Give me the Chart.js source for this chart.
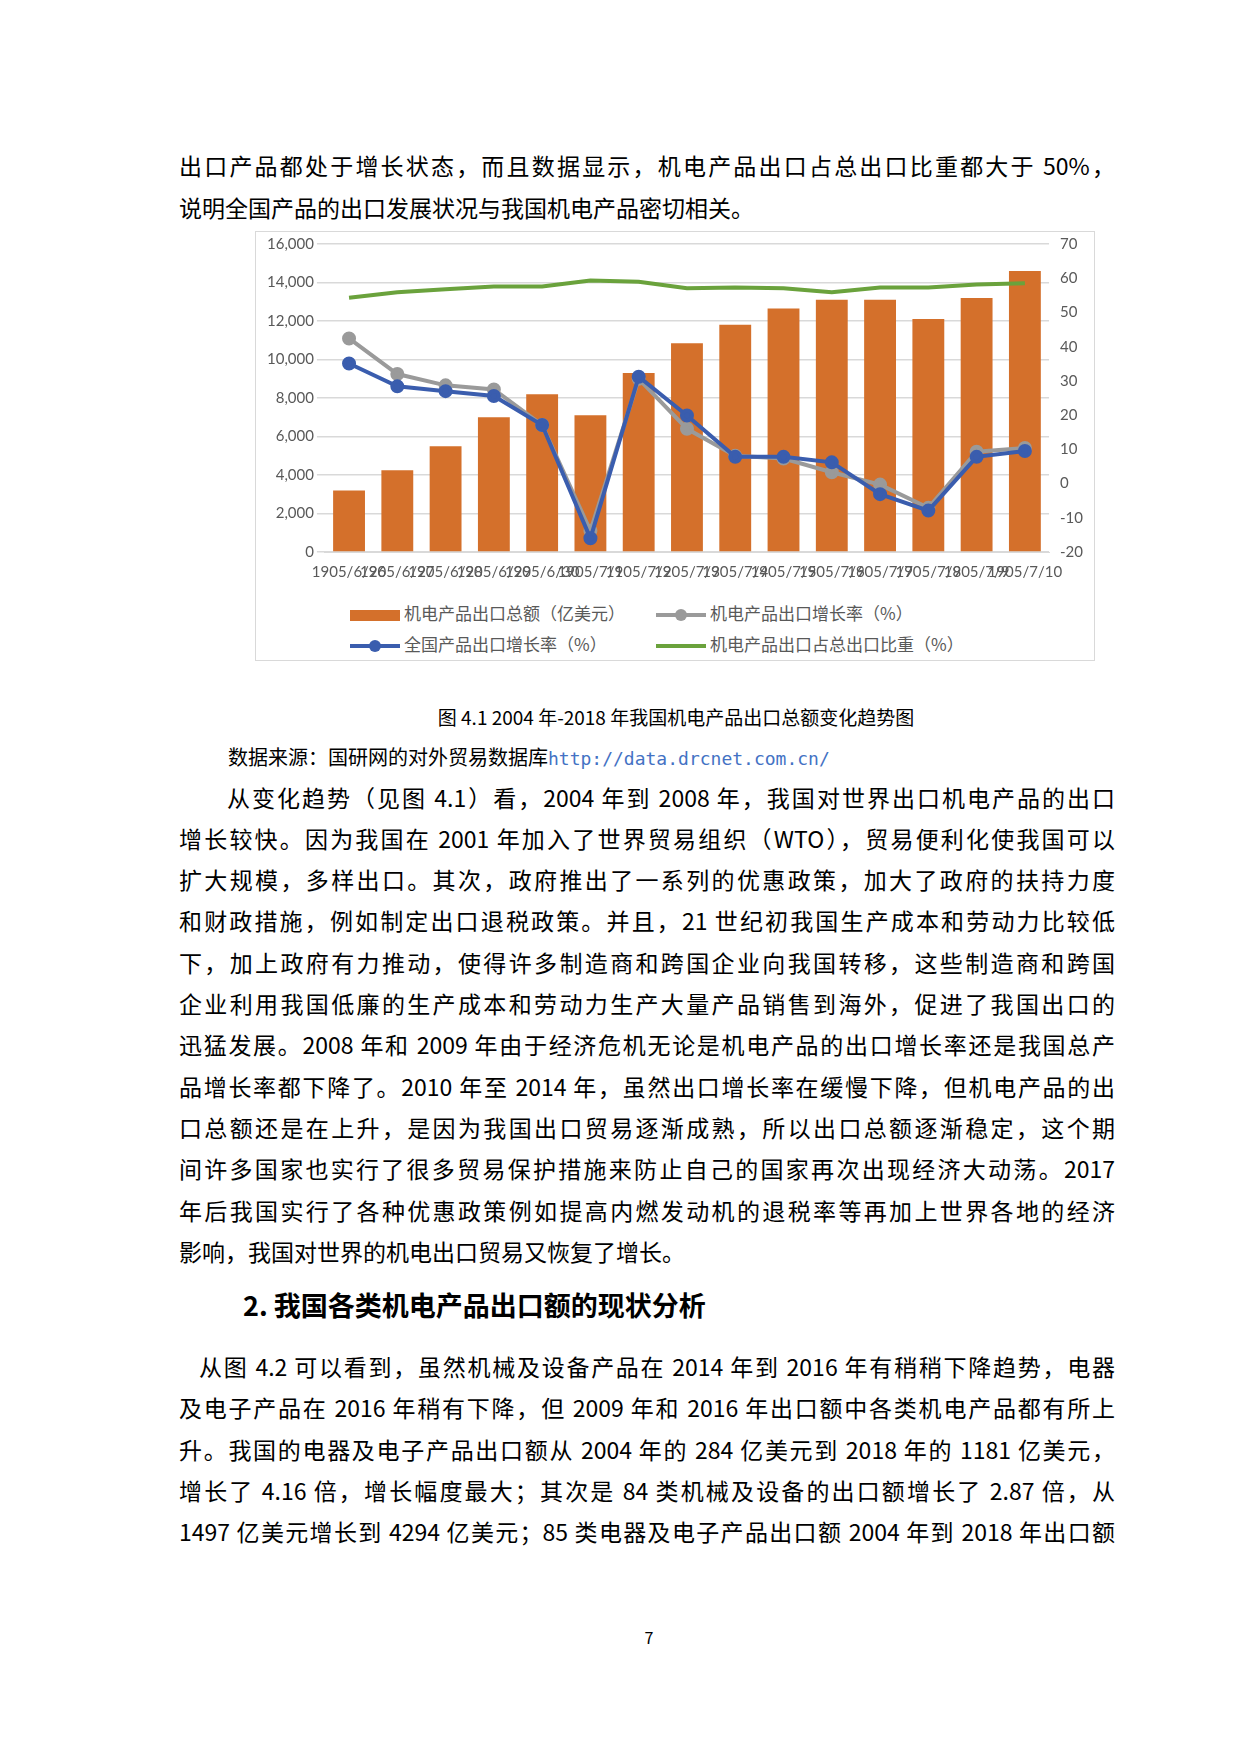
<!DOCTYPE html>
<html>
<head>
<meta charset="utf-8">
<script src="https://cdn.jsdelivr.net/npm/chart.js@4"></script>
<style>
body { margin:0; width:1240px; height:1754px; background:#fff; position:relative; font-family:"Noto Sans CJK SC", sans-serif; color:#000; }
.ln { position:absolute; left:179px; width:936px; font-size:23px; line-height:30px; white-space:nowrap; }
.j { text-align:justify; text-align-last:justify; }
#box { position:absolute; left:255px; top:231px; width:838px; height:428px; border:1.5px solid #d9d9d9; }
#wrap { position:absolute; left:0; top:0; width:838px; height:352px; }
.lg { position:absolute; font-size:17px; color:#595959; font-family:"Noto Sans CJK SC",sans-serif; }
.lg i { display:inline-block; vertical-align:middle; margin-right:4px; position:relative; }
</style>
</head>
<body>
<div class="ln j" style="top:150px">出口产品都处于增长状态，而且数据显示，机电产品出口占总出口比重都大于 50%，</div>
<div class="ln" style="top:192px">说明全国产品的出口发展状况与我国机电产品密切相关。</div>

<div id="box">
  <div id="wrap"><canvas id="myChart"></canvas></div>
  <div class="lg" style="left:94px;top:368px"><i style="width:50px;height:11px;background:#d4702b"></i>机电产品出口总额（亿美元）</div>
  <div class="lg" style="left:400px;top:368px"><i style="width:50px;height:4px;background:#9a9a9a"><b style="position:absolute;left:19px;top:-4px;width:12px;height:12px;border-radius:6px;background:#9a9a9a"></b></i>机电产品出口增长率（%）</div>
  <div class="lg" style="left:94px;top:399px"><i style="width:50px;height:4px;background:#3a5dae"><b style="position:absolute;left:19px;top:-4px;width:12px;height:12px;border-radius:6px;background:#3a5dae"></b></i>全国产品出口增长率（%）</div>
  <div class="lg" style="left:400px;top:399px"><i style="width:50px;height:4px;background:#6aa23c"></i>机电产品出口占总出口比重（%）</div>
</div>

<div class="ln" style="top:702px;left:0;width:1352px;text-align:center;font-size:19px">图 4.1 2004 年-2018 年我国机电产品出口总额变化趋势图</div>
<div class="ln" style="top:742px;left:228px;font-size:20px">数据来源：国研网的对外贸易数据库<span style="color:#4472c4;font-family:'DejaVu Sans Mono',monospace;font-size:18px">http://data.drcnet.com.cn/</span></div>
<div class="ln j" style="top:782px;left:227px;width:888px">从变化趋势（见图 4.1）看，2004 年到 2008 年，我国对世界出口机电产品的出口</div>
<div class="ln j" style="top:823px">增长较快。因为我国在 2001 年加入了世界贸易组织（WTO），贸易便利化使我国可以</div>
<div class="ln j" style="top:864px">扩大规模，多样出口。其次，政府推出了一系列的优惠政策，加大了政府的扶持力度</div>
<div class="ln j" style="top:905px">和财政措施，例如制定出口退税政策。并且，21 世纪初我国生产成本和劳动力比较低</div>
<div class="ln j" style="top:947px">下，加上政府有力推动，使得许多制造商和跨国企业向我国转移，这些制造商和跨国</div>
<div class="ln j" style="top:988px">企业利用我国低廉的生产成本和劳动力生产大量产品销售到海外，促进了我国出口的</div>
<div class="ln j" style="top:1029px">迅猛发展。2008 年和 2009 年由于经济危机无论是机电产品的出口增长率还是我国总产</div>
<div class="ln j" style="top:1071px">品增长率都下降了。2010 年至 2014 年，虽然出口增长率在缓慢下降，但机电产品的出</div>
<div class="ln j" style="top:1112px">口总额还是在上升，是因为我国出口贸易逐渐成熟，所以出口总额逐渐稳定，这个期</div>
<div class="ln j" style="top:1153px">间许多国家也实行了很多贸易保护措施来防止自己的国家再次出现经济大动荡。2017</div>
<div class="ln j" style="top:1195px">年后我国实行了各种优惠政策例如提高内燃发动机的退税率等再加上世界各地的经济</div>
<div class="ln" style="top:1236px">影响，我国对世界的机电出口贸易又恢复了增长。</div>
<div class="ln" style="top:1290px;left:243px;font-size:27px;font-weight:bold">2. 我国各类机电产品出口额的现状分析</div>
<div class="ln j" style="top:1351px;left:199px;width:916px">从图 4.2 可以看到，虽然机械及设备产品在 2014 年到 2016 年有稍稍下降趋势，电器</div>
<div class="ln j" style="top:1392px">及电子产品在 2016 年稍有下降，但 2009 年和 2016 年出口额中各类机电产品都有所上</div>
<div class="ln j" style="top:1434px">升。我国的电器及电子产品出口额从 2004 年的 284 亿美元到 2018 年的 1181 亿美元，</div>
<div class="ln j" style="top:1475px">增长了 4.16 倍，增长幅度最大；其次是 84 类机械及设备的出口额增长了 2.87 倍，从</div>
<div class="ln j" style="top:1516px">1497 亿美元增长到 4294 亿美元；85 类电器及电子产品出口额 2004 年到 2018 年出口额</div>
<div class="ln" style="top:1622px;left:0;width:1298px;text-align:center;font-size:16px">7</div>

<script>
// data
const labels = ['1905/6/26','1905/6/27','1905/6/28','1905/6/29','1905/6/30','1905/7/1','1905/7/2','1905/7/3','1905/7/4','1905/7/5','1905/7/6','1905/7/7','1905/7/8','1905/7/9','1905/7/10']
const exportTotal = [3200, 4250, 5500, 7000, 8200, 7100, 9300, 10850, 11800, 12650, 13100, 13100, 12100, 13200, 14600]
const mechGrowth = [42.4, 32, 28.7, 27.5, 17.1, -13.8, 30.6, 16, 8.1, 7.3, 3.3, -0.3, -7.1, 9.3, 10.4]
const nationGrowth = [35.1, 28.4, 27, 25.6, 17.1, -16, 31.2, 19.9, 7.8, 7.8, 6.2, -3.1, -7.9, 7.8, 9.5]
const mechShare = [54.3, 55.9, 56.8, 57.6, 57.6, 59.3, 59, 57.1, 57.3, 57.1, 55.9, 57.3, 57.3, 58.2, 58.5]

const tickFont = { family: 'Lato, "Noto Sans", sans-serif', size: 15 }
const tickColor = '#595959'

new Chart(document.getElementById('myChart'), {
    data: {
        labels: labels,
        datasets: [
            { type: 'line', data: mechShare, yAxisID: 'y1', borderColor: '#6aa23c', borderWidth: 4, pointRadius: 0, order: 0 },
            { type: 'line', data: nationGrowth, yAxisID: 'y1', borderColor: '#3a5dae', backgroundColor: '#3a5dae', borderWidth: 4, pointRadius: 5, order: 1 },
            { type: 'line', data: mechGrowth, yAxisID: 'y1', borderColor: '#9a9a9a', backgroundColor: '#9a9a9a', borderWidth: 4, pointRadius: 5, order: 2 },
            { type: 'bar', data: exportTotal, yAxisID: 'y', backgroundColor: '#d4702b', categoryPercentage: 0.66, barPercentage: 1, order: 3 }
        ]
    },
    options: {
        responsive: true,
        maintainAspectRatio: false,
        animation: false,
        layout: { padding: { top: 8, left: 8, right: 8, bottom: 0 } },
        plugins: { legend: { display: false }, tooltip: { enabled: false } },
        scales: {
            x: {
                grid: { display: false },
                border: { color: '#d9d9d9' },
                ticks: { autoSkip: false, maxRotation: 0, font: tickFont, color: tickColor }
            },
            y: {
                min: 0, max: 16000,
                ticks: { stepSize: 2000, font: tickFont, color: tickColor },
                grid: { color: '#d9d9d9', lineWidth: 1.5 },
                border: { display: false }
            },
            y1: {
                position: 'right', min: -20, max: 70,
                ticks: { stepSize: 10, font: tickFont, color: tickColor },
                grid: { display: false },
                border: { display: false }
            }
        }
    }
})
</script>
</body>
</html>
